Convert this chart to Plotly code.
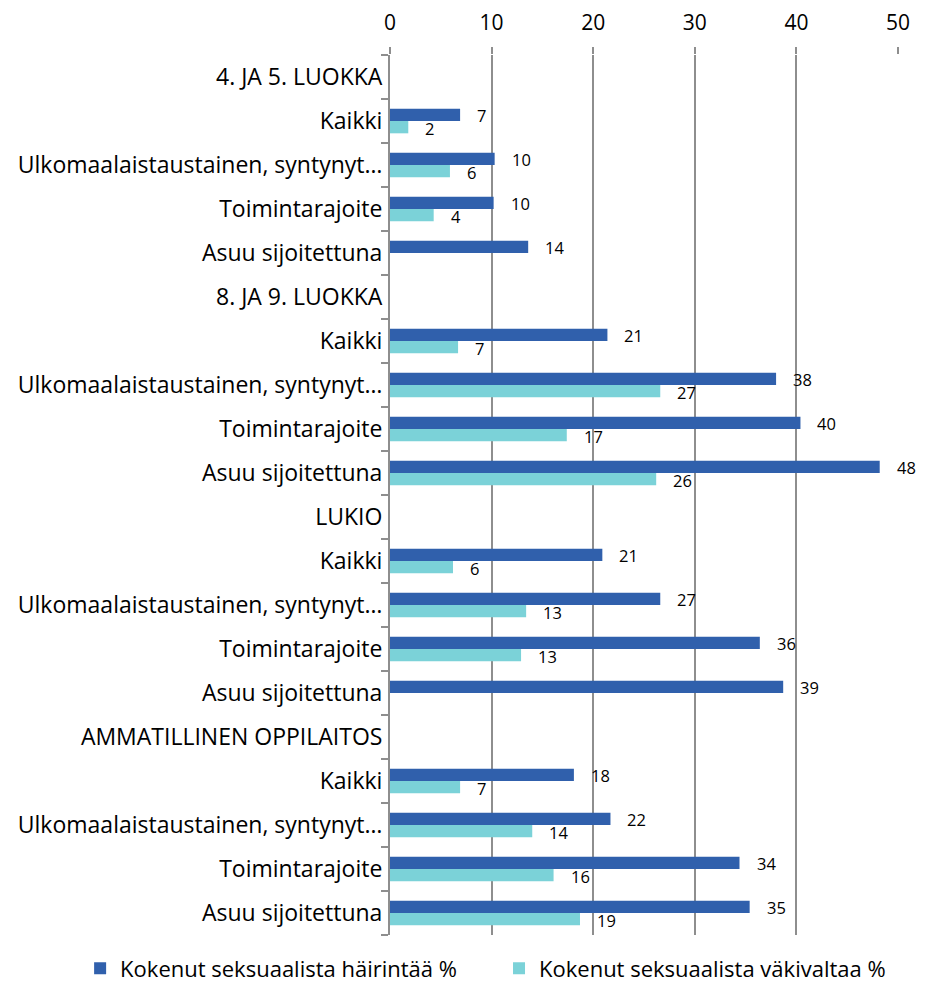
import plotly.graph_objects as go

categories = [
    "4. JA 5. LUOKKA", "Kaikki", "Ulkomaalaistaustainen, syntynyt…", "Toimintarajoite", "Asuu sijoitettuna",
    "8. JA 9. LUOKKA", "Kaikki", "Ulkomaalaistaustainen, syntynyt…", "Toimintarajoite", "Asuu sijoitettuna",
    "LUKIO", "Kaikki", "Ulkomaalaistaustainen, syntynyt…", "Toimintarajoite", "Asuu sijoitettuna",
    "AMMATILLINEN OPPILAITOS", "Kaikki", "Ulkomaalaistaustainen, syntynyt…", "Toimintarajoite", "Asuu sijoitettuna",
]
harassment = [None, 6.9, 10.3, 10.2, 13.6,
              None, 21.4, 38.0, 40.4, 48.2,
              None, 20.9, 26.6, 36.4, 38.7,
              None, 18.1, 21.7, 34.4, 35.4]
violence = [None, 1.8, 5.9, 4.3, None,
            None, 6.7, 26.6, 17.4, 26.2,
            None, 6.2, 13.4, 12.9, None,
            None, 6.9, 14.0, 16.1, 18.7]
series_names = ["Kokenut seksuaalista häirintää %", "Kokenut seksuaalista väkivaltaa %"]
colors = ["#3060AC", "#7BD2D8"]

FONT = "Open Sans"
pos = list(range(len(categories)))

fig = go.Figure()
for name, vals, col, leg in zip(series_names, [harassment, violence], colors, ["legend", "legend2"]):
    fig.add_trace(go.Bar(
        y=pos, x=vals, orientation="h", name=name, legend=leg,
        marker=dict(color=col, line=dict(width=0)),
    ))

bar_w = 0.28
annotations = []
for vals, off in [(harassment, -bar_w / 2), (violence, bar_w / 2)]:
    for i, v in enumerate(vals):
        if v is None:
            continue
        annotations.append(dict(
            x=v, y=i + off, xref="x", yref="y", text=f"{v:.0f}",
            showarrow=False, xanchor="left", yanchor="middle",
            xshift=15, yshift=-1,
            font=dict(family=FONT, size=16.5, color="#000000"),
        ))

legend_common = dict(
    orientation="h", xanchor="left", y=-0.038, yanchor="middle",
    font=dict(family=FONT, size=22, color="#000000"),
    bgcolor="rgba(0,0,0,0)", borderwidth=0,
)
# page body has an 8px margin, so the figure is 920x975 and offset by 8px
fig.update_layout(
    width=920, height=975,
    margin=dict(l=382, r=30, t=47, b=48, autoexpand=False),
    paper_bgcolor="white", plot_bgcolor="white",
    barmode="group", bargap=1 - 2 * bar_w, bargroupgap=0,
    font=dict(family=FONT, color="#000000"),
    annotations=annotations,
    showlegend=True,
    legend=dict(x=-0.610, **legend_common),
    legend2=dict(x=0.2146, **legend_common),
)
fig.update_xaxes(
    side="top", range=[0, 50], dtick=10, tick0=0, automargin=False,
    showgrid=True, gridcolor="#8E8E8E", gridwidth=1.5,
    ticks="outside", ticklen=7, tickcolor="#8E8E8E", tickwidth=1.5,
    ticklabelstandoff=9,
    tickfont=dict(family=FONT, size=21, color="#000000"),
    zeroline=False, showline=False,
)
fig.update_yaxes(
    range=[len(categories) - 0.5, -0.5], automargin=False,
    tickmode="array", tickvals=pos, ticktext=categories,
    ticks="", showgrid=False, zeroline=False,
    showline=True, linecolor="#8E8E8E", linewidth=2,
    tickfont=dict(family=FONT, size=23, color="#000000"),
    ticklabelstandoff=1,
    minor=dict(tickmode="array", tickvals=[i - 0.5 for i in range(len(categories) + 1)],
               ticks="outside", ticklen=7, tickcolor="#8E8E8E", tickwidth=1.5, showgrid=False),
)

fig.write_html("out.html")
